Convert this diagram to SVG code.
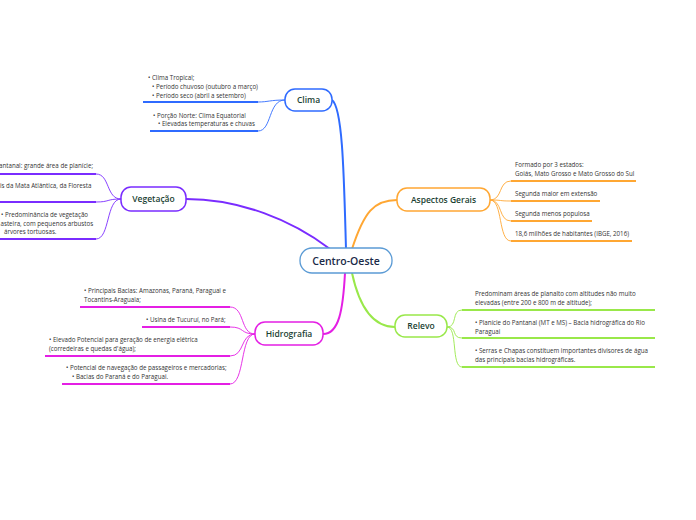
<svg xmlns="http://www.w3.org/2000/svg" width="696" height="520" viewBox="0 0 696 520">
<style>
.t{font-family:"Open Sans","Noto Sans","Liberation Sans",sans-serif;font-size:6.2px;fill:#333}
.n{font-family:"Open Sans","Noto Sans","Liberation Sans",sans-serif;font-size:8.5px;fill:#1b3f33;font-weight:600;text-anchor:middle}
.c{font-family:"Open Sans","Noto Sans","Liberation Sans",sans-serif;font-size:10.5px;fill:#1a2a48;font-weight:600;text-anchor:middle}
.u{fill:none;stroke-width:2}
.s{fill:none;stroke-width:0.9}
.b{fill:none;stroke-width:2}
.blue{stroke:#2f6bff}.pur{stroke:#7a2cff}.org{stroke:#ffa733}.mag{stroke:#e41fe4}.grn{stroke:#99e84a}
</style>
<rect width="696" height="520" fill="#fff"/>
<g id="connectors">
<path class="b blue" d="M346,249 C344,180 343,108 332,100"/>
<path class="b pur" d="M330,249 C292,220 240,199 186,199"/>
<path class="b org" d="M352,249 C364,212 374,200 397,200"/>
<path class="b mag" d="M345,273 C343,310 339,334 323,334"/>
<path class="b grn" d="M352,273 C360,310 375,327 395,327"/>
<path class="s blue" d="M285,100 C270,100 268,102 258,102"/>
<path class="s blue" d="M285,100 C268,100 272,131 258,131"/>
<path class="u blue" d="M143,102 H258"/>
<path class="u blue" d="M150,131 H258"/>
<path class="s pur" d="M121,199 C106,199 110,174 96,174"/>
<path class="s pur" d="M121,199 C106,199 110,202 96,202"/>
<path class="s pur" d="M121,199 C106,199 110,239 96,239"/>
<path class="u pur" d="M0,174 H96"/>
<path class="u pur" d="M0,202 H96"/>
<path class="u pur" d="M0,239 H96"/>
<path class="s org" d="M490,200 C503,200 498,181 511,181"/>
<path class="s org" d="M490,200 C503,200 498,201 511,201"/>
<path class="s org" d="M490,200 C503,200 498,221 511,221"/>
<path class="s org" d="M490,200 C503,200 498,241 511,241"/>
<path class="u org" d="M511,181 H636"/>
<path class="u org" d="M511,201 H600"/>
<path class="u org" d="M511,221 H592"/>
<path class="u org" d="M511,241 H632"/>
<path class="s grn" d="M447,327 C458,327 451,310 462,310"/>
<path class="s grn" d="M447,327 C458,327 451,338 462,338"/>
<path class="s grn" d="M447,327 C458,327 451,367 462,367"/>
<path class="u grn" d="M462,310 H655"/>
<path class="u grn" d="M462,338 H655"/>
<path class="u grn" d="M462,367 H655"/>
<path class="s mag" d="M255,334 C240,334 245,307 230,307"/>
<path class="s mag" d="M255,334 C240,334 245,327 230,327"/>
<path class="s mag" d="M255,334 C240,334 245,356 230,356"/>
<path class="s mag" d="M255,334 C240,334 245,384 230,384"/>
<path class="u mag" d="M80,307 H230"/>
<path class="u mag" d="M142,327 H230"/>
<path class="u mag" d="M45,356 H230"/>
<path class="u mag" d="M62,384 H230"/>
</g>
<g id="centro-oeste">
<rect x="300" y="248" width="92" height="25" rx="12" fill="#fff" stroke="#5b9bd5" stroke-width="1.3"/>
<text class="c" x="346" y="264.5">Centro-Oeste</text>
</g>
<g id="clima">
<rect x="285" y="89" width="47" height="22" rx="10" fill="#fff" stroke="#2f6bff" stroke-width="1.5"/>
<text class="n" x="308.5" y="103">Clima</text>
</g>
<g id="clima-1">
<text class="t" x="148" y="80">• Clima Tropical;</text>
<text class="t" x="152" y="89">• Período chuvoso (outubro a março)</text>
<text class="t" x="152" y="97.5">• Período seco (abril a setembro)</text>
</g>
<g id="clima-2">
<text class="t" x="153" y="117.5">• Porção Norte: Clima Equatorial</text>
<text class="t" x="158" y="126">• Elevadas temperaturas e chuvas</text>
</g>
<g id="vegetacao">
<rect x="121" y="187" width="65" height="24" rx="10" fill="#fff" stroke="#7a2cff" stroke-width="1.5"/>
<text class="n" x="153.5" y="202">Vegetação</text>
</g>
<g id="veg-1"><text class="t" x="-1" y="168">antanal: grande área de planície;</text></g>
<g id="veg-2"><text class="t" x="0" y="188">is da Mata Atlântica, da Floresta</text></g>
<g id="veg-3">
<text class="t" x="1" y="217">• Predominância de vegetação</text>
<text class="t" x="0.5" y="225.5">asteira, com pequenos arbustos</text>
<text class="t" x="4" y="234">árvores tortuosas.</text>
</g>
<g id="aspectos-gerais">
<rect x="397" y="188" width="93" height="23" rx="10" fill="#fff" stroke="#ffa733" stroke-width="1.5"/>
<text class="n" x="443.5" y="202.5">Aspectos Gerais</text>
</g>
<g id="asp-1">
<text class="t" x="515" y="167">Formado por 3 estados:</text>
<text class="t" x="515" y="176">Goiás, Mato Grosso e Mato Grosso do Sul</text>
</g>
<g id="asp-2"><text class="t" x="515" y="196">Segunda maior em extensão</text></g>
<g id="asp-3"><text class="t" x="515" y="216">Segunda menos populosa</text></g>
<g id="asp-4"><text class="t" x="515" y="236">18,6 milhões de habitantes (IBGE, 2016)</text></g>
<g id="relevo">
<rect x="395" y="315" width="52" height="22" rx="10" fill="#fff" stroke="#99e84a" stroke-width="1.5"/>
<text class="n" x="421" y="329">Relevo</text>
</g>
<g id="rel-1">
<text class="t" x="475" y="296">Predominam áreas de planalto com altitudes não muito</text>
<text class="t" x="475" y="304.5">elevadas (entre 200 e 800 m de altitude);</text>
</g>
<g id="rel-2">
<text class="t" x="475" y="325">• Planície do Pantanal (MT e MS) – Bacia hidrográfica do Rio</text>
<text class="t" x="475" y="333.5">Paraguai</text>
</g>
<g id="rel-3">
<text class="t" x="475" y="353">• Serras e Chapas constituem importantes divisores de água</text>
<text class="t" x="475" y="361.5">das principais bacias hidrográficas.</text>
</g>
<g id="hidrografia">
<rect x="255" y="322" width="68" height="23" rx="10" fill="#fff" stroke="#e41fe4" stroke-width="1.5"/>
<text class="n" x="289" y="336.5">Hidrografia</text>
</g>
<g id="hid-1">
<text class="t" x="84" y="293">• Principais Bacias: Amazonas, Paraná, Paraguai e</text>
<text class="t" x="84" y="301.5">Tocantins-Araguaia;</text>
</g>
<g id="hid-2"><text class="t" x="146" y="322">• Usina de Tucuruí, no Pará;</text></g>
<g id="hid-3">
<text class="t" x="49" y="342">• Elevado Potencial para geração de energia elétrica</text>
<text class="t" x="49" y="350.5">(corredeiras e quedas d'água);</text>
</g>
<g id="hid-4">
<text class="t" x="66" y="370">• Potencial de navegação de passageiros e mercadorias;</text>
<text class="t" x="72" y="379">• Bacias do Paraná e do Paraguai.</text>
</g>
</svg>
